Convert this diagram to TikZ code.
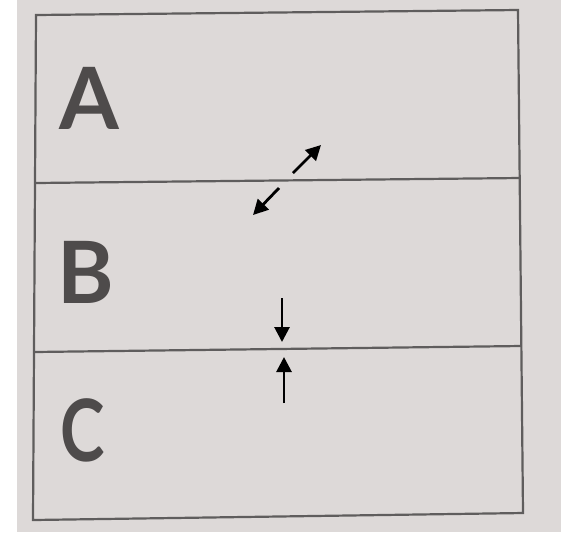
\documentclass[tikz,border=0pt]{standalone}
\usepackage{fontspec}
\setmainfont{Lato}
\usetikzlibrary{arrows.meta}

\definecolor{paper}{RGB}{221,217,216}
\definecolor{penline}{RGB}{95,93,93}
\definecolor{ink}{RGB}{78,75,75}

\tikzset{
    boxline/.style={penline, line width=1.1pt},
    layer label/.style={ink, inner sep=0pt, font=\fontsize{43}{43}\selectfont\bfseries},
    flux/.style={black, line width=1.4pt, -{Triangle[length=7.5pt,width=7.5pt]}}
}

\begin{document}
\begin{tikzpicture}[x=0.5pt, y=-0.5pt]

    % Photo background
    \useasboundingbox (0,0) rectangle (561,532);
    \fill[white] (0,0) rectangle (17,532);
    \fill[paper] (17,0) rectangle (561,532);

    % Outer box
    \draw[boxline] (36,15) -- (518,10) -- (523,513) -- (33,520) -- cycle;

    % Layer boundaries
    \draw[boxline] (35,183) -- (520,178);
    \draw[boxline] (34,352) -- (521,346);

    % Layer names
    \node[layer label] (A) at (89,98) {A};
    \node[layer label] (B) at (86,272) {B};
    \node[layer label, xscale=0.78, transform shape] (C) at (83,430) {C};

    % Exchange between A and B
    \coordinate (ab1) at (293,173);
    \coordinate (ab2) at (321,145);
    \coordinate (ba1) at (279,188);
    \coordinate (ba2) at (253,215);
    \draw[flux] (ab1) -- (ab2);
    \draw[flux] (ba1) -- (ba2);

    % Pressure on boundary B/C
    \coordinate (bc1) at (282,298);
    \coordinate (bc2) at (282,342);
    \coordinate (cb1) at (284,403);
    \coordinate (cb2) at (284,357);
    \draw[flux] (bc1) -- (bc2);
    \draw[flux] (cb1) -- (cb2);
\end{tikzpicture}
\end{document}
